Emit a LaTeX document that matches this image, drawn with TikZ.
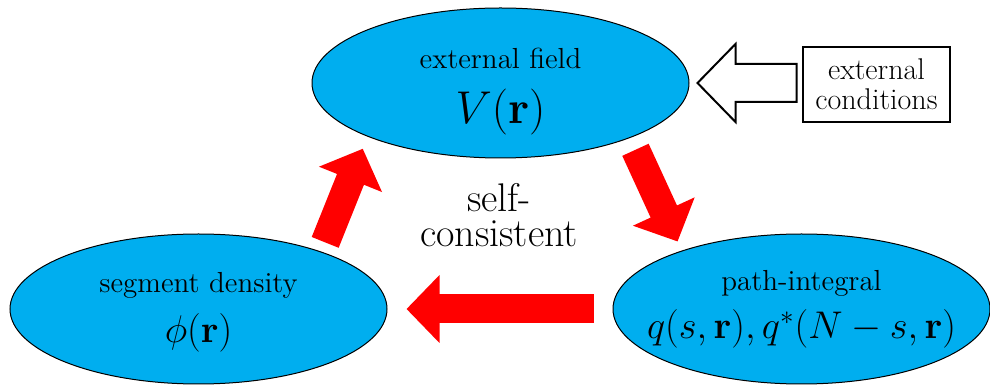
\RequirePackage{fix-cm}
\documentclass[tikz,border=0pt]{standalone}
\usepackage{amsmath}
\usepackage{tikz}
\usetikzlibrary{arrows.meta,shapes.geometric,calc}
\definecolor{fieldblue}{RGB}{0,174,239}
\definecolor{flowred}{RGB}{255,0,0}

\begin{document}
\begin{tikzpicture}[x=0.5pt, y=0.5pt,
  cell/.style={ellipse, draw=black, line width=0.5pt, fill=fieldblue,
               minimum width=188.5pt, minimum height=75pt, inner sep=0pt},
  celltext/.style={align=center, inner sep=0pt, font=\fontsize{14.5}{25}\selectfont},
  flow/.style={-{Triangle[length=16.5pt, width=33pt]}, line width=14.5pt, color=flowred},
  pushbox/.style={draw=black, line width=0.6pt, align=center, inner sep=0pt,
                  minimum width=73.5pt, minimum height=37.5pt, font=\fontsize{15}{15}\selectfont}]
\useasboundingbox (0,0) rectangle (990,385);
\node[cell] (field) at (500.5,302) {};
\node[cell] (dens) at (198.5,76) {};
\node[cell] (paths) at (801.5,76) {};
\node[celltext, yshift=-4.1pt] (fieldtxt) at (field)
  {external field\\[2.5pt]{\fontsize{23}{23}\selectfont$V(\mathbf{r})$}};
\node[celltext, yshift=-1.4pt] (denstxt) at (dens)
  {segment density\\{\fontsize{19.3}{19.3}\selectfont$\phi(\mathbf{r})$}};
\node[celltext] (pathstxt) at (paths)
  {path-integral\\[-1pt]{\fontsize{19.3}{19.3}\selectfont$q(s,\mathbf{r}),q^*(N-s,\mathbf{r})$}};
\node[font=\fontsize{20}{17.5}\selectfont, align=center] (selfc) at (499,169.5) {self-\\consistent};
\node[pushbox] (cond) at (876.5,300.5) {external\\conditions};
\draw[flow, shorten <=5pt, shorten >=6.5pt] (dens.25.3) -- (field.202.3);
\draw[flow, shorten <=6.5pt, shorten >=5pt] (field.337.7) -- (paths.154.7);
\draw[flow, shorten <=9.5pt, shorten >=9.5pt] (paths.west) -- (dens.east);
\draw[line width=1pt, fill=white] ([xshift=4pt]field.east) -- ++(38,39) -- ++(0,-20)
  -- ++(61,0) -- ++(0,-38) -- ++(-61,0) -- ++(0,-20) -- cycle;
\end{tikzpicture}
\end{document}
